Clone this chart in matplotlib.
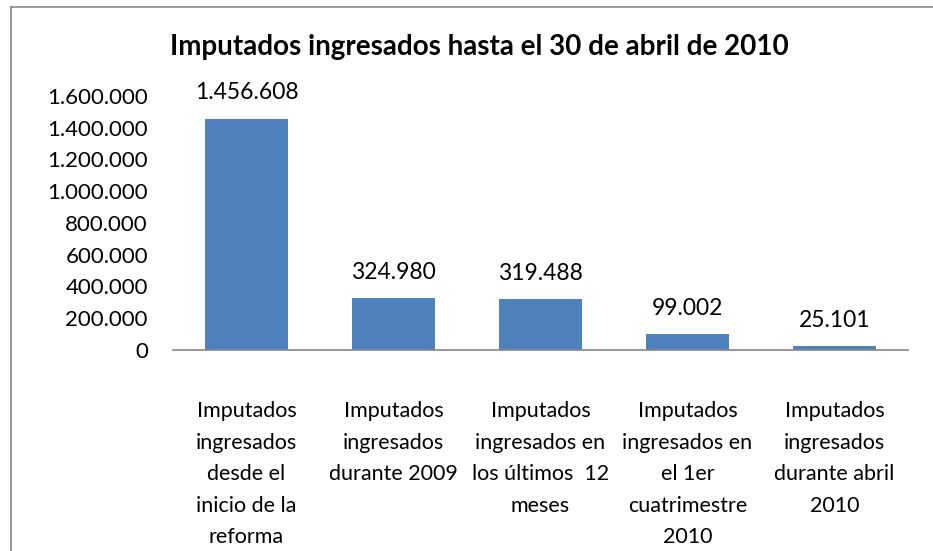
import matplotlib
matplotlib.use("Agg")
import matplotlib.pyplot as plt
from matplotlib.lines import Line2D

categories = [
    "Imputados\ningresados\ndesde el\ninicio de la\nreforma",
    "Imputados\ningresados\ndurante 2009",
    "Imputados\ningresados en\nlos últimos  12\nmeses",
    "Imputados\ningresados en\nel 1er\ncuatrimestre\n2010",
    "Imputados\ningresados\ndurante abril\n2010",
]
values = [1456608, 324980, 319488, 99002, 25101]
yticks = [0, 200000, 400000, 600000, 800000, 1000000, 1200000, 1400000, 1600000]


def fmt(v):
    # separador de miles con punto
    return f"{int(v):,}".replace(",", ".")


plt.rcParams['font.family'] = ['Lato', 'DejaVu Sans']

fig = plt.figure(figsize=(9.33, 5.51), dpi=100)
ax = fig.add_axes([0.1854, 0.3648, 0.7878, 0.461])

x = range(len(values))
bars = ax.bar(x, values, width=0.565, color="#4F81BD")
ax.set_xlim(-0.5, len(values) - 0.5)
ax.set_ylim(0, 1600000)

ax.set_yticks(yticks)
ax.set_yticklabels([fmt(t) for t in yticks], fontsize=16)
ax.set_xticks(list(x))
ax.set_xticklabels(categories, fontsize=15.5, linespacing=1.72, va="top")
ax.tick_params(axis="y", length=0, pad=18)
ax.tick_params(axis="x", length=0, pad=37)

for s in ["top", "right", "left"]:
    ax.spines[s].set_visible(False)
ax.spines["bottom"].set_color("#868686")
ax.spines["bottom"].set_linewidth(1.2)

# etiquetas de valor
for b, v in zip(bars, values):
    ax.annotate(fmt(v), (b.get_x() + b.get_width() / 2, v),
                xytext=(0, 11), textcoords="offset points",
                ha="center", va="bottom", fontsize=16.5)

fig.text(0.514, 0.914, "Imputados ingresados hasta el 30 de abril de 2010",
         ha="center", va="center", fontsize=20, fontweight="bold")

# borde del área del gráfico
fig.add_artist(Line2D([0.012, 0.012], [0.0, 0.987], transform=fig.transFigure,
                      color="#878787", lw=1.2))
fig.add_artist(Line2D([0.012, 1.0], [0.987, 0.987], transform=fig.transFigure,
                      color="#878787", lw=1.2))

fig.savefig("out.png", dpi=100)
